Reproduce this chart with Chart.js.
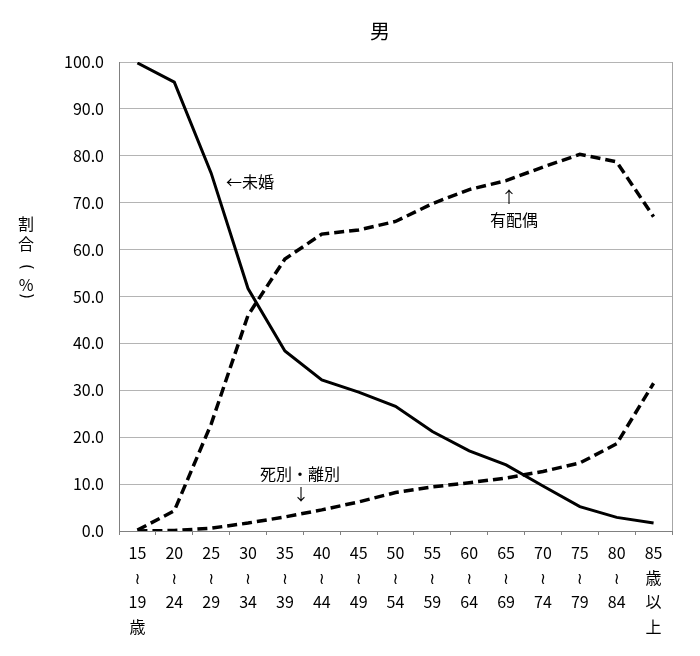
<!DOCTYPE html>
<html lang="ja">
<head>
<meta charset="utf-8">
<title>男</title>
<script src="https://cdn.jsdelivr.net/npm/chart.js@4.4.1/dist/chart.umd.min.js"></script>
<style>
  html, body { margin: 0; padding: 0; background: #fff; }
  #wrap { width: 700px; height: 656px; }
</style>
</head>
<body>
<div id="wrap"><canvas id="chart" width="700" height="656"></canvas></div>
<script>
const ageLabels = [
  ['15', '≀', '19', '歳'],
  ['20', '≀', '24'],
  ['25', '≀', '29'],
  ['30', '≀', '34'],
  ['35', '≀', '39'],
  ['40', '≀', '44'],
  ['45', '≀', '49'],
  ['50', '≀', '54'],
  ['55', '≀', '59'],
  ['60', '≀', '64'],
  ['65', '≀', '69'],
  ['70', '≀', '74'],
  ['75', '≀', '79'],
  ['80', '≀', '84'],
  ['85', '歳', '以', '上']
];

// 未婚
const unmarried = [99.8, 95.7, 76.3, 51.7, 38.4, 32.2, 29.6, 26.6, 21.2, 17.1, 14.1, 9.6, 5.2, 2.9, 1.7];
// 有配偶
const married = [0.2, 4.3, 22.8, 46.0, 58.0, 63.3, 64.2, 66.0, 69.8, 72.8, 74.7, 77.6, 80.3, 78.7, 67.0];
// 死別・離別
const widowedDivorced = [0.0, 0.1, 0.6, 1.7, 3.0, 4.5, 6.2, 8.2, 9.4, 10.3, 11.3, 12.7, 14.5, 18.6, 31.5];

const yTicks = [0, 10, 20, 30, 40, 50, 60, 70, 80, 90, 100];

const FONT = '"Noto Sans CJK JP", "DejaVu Sans", sans-serif';

// title, y axis caption, line notes and the right frame edge
const decorations = {
  id: 'decorations',
  afterDraw(chart) {
    const { ctx, chartArea } = chart;
    ctx.save();

    ctx.strokeStyle = '#a6a6a6';
    ctx.lineWidth = 1;
    ctx.beginPath();
    ctx.moveTo(chartArea.right + 0.5, chartArea.top);
    ctx.lineTo(chartArea.right + 0.5, chartArea.bottom);
    ctx.stroke();

    ctx.fillStyle = '#000';
    ctx.textAlign = 'center';
    ctx.textBaseline = 'middle';

    ctx.font = '20px ' + FONT;
    ctx.fillText('男', 380, 31);

    // vertical caption 割合（%）
    ctx.font = '16px ' + FONT;
    ctx.fillText('割', 26, 224);
    ctx.fillText('合', 26, 244);
    ctx.fillText('%', 26, 285);
    ctx.font = '15px "DejaVu Sans", sans-serif';
    [['(', 267], [')', 296]].forEach(([ch, y]) => {
      ctx.save();
      ctx.translate(26, y);
      ctx.rotate(Math.PI / 2);
      ctx.fillText(ch, 0, 0);
      ctx.restore();
    });

    ctx.font = '16px ' + FONT;
    ctx.textAlign = 'left';
    ctx.fillText('←未婚', 226, 182);

    ctx.textAlign = 'center';
    ctx.fillText('有配偶', 514, 220);
    ctx.fillText('↑', 509, 197);

    ctx.fillText('死別・離別', 300, 474);
    ctx.fillText('↓', 301, 494);

    ctx.restore();
  }
};

new Chart(document.getElementById('chart'), {
  type: 'line',
  data: {
    labels: ageLabels,
    datasets: [
      {
        label: '未婚',
        data: unmarried,
        borderColor: '#000',
        borderWidth: 3,
        pointRadius: 0,
        tension: 0
      },
      {
        label: '有配偶',
        data: married,
        borderColor: '#000',
        borderWidth: 3.5,
        borderDash: [10, 5],
        pointRadius: 0,
        tension: 0
      },
      {
        label: '死別・離別',
        data: widowedDivorced,
        borderColor: '#000',
        borderWidth: 3.5,
        borderDash: [10, 5],
        pointRadius: 0,
        tension: 0
      }
    ]
  },
  options: {
    responsive: false,
    animation: false,
    layout: { padding: { top: 62, right: 28, left: 0, bottom: 0 } },
    plugins: {
      legend: { display: false },
      tooltip: { enabled: false }
    },
    scales: {
      x: {
        offset: true,
        grid: {
          offset: true,
          drawOnChartArea: false,
          drawTicks: true,
          tickLength: 4,
          color: '#808080'
        },
        border: { color: '#808080' },
        ticks: {
          color: '#000',
          padding: 5,
          maxRotation: 0,
          autoSkip: false,
          font: { family: FONT, size: 16, lineHeight: 1.56 }
        },
        afterFit(scale) { scale.height = 656 - 531; }
      },
      y: {
        min: 0,
        max: 100,
        afterBuildTicks(scale) { scale.ticks = yTicks.map((v) => ({ value: v })); },
        grid: { color: '#b4b4b4', drawTicks: false },
        border: { color: '#808080' },
        ticks: {
          color: '#000',
          padding: 15,
          font: { family: FONT, size: 16 },
          callback: (v) => Number(v).toFixed(1)
        },
        afterFit(scale) { scale.width = 119; }
      }
    }
  },
  plugins: [decorations]
});
</script>
</body>
</html>
